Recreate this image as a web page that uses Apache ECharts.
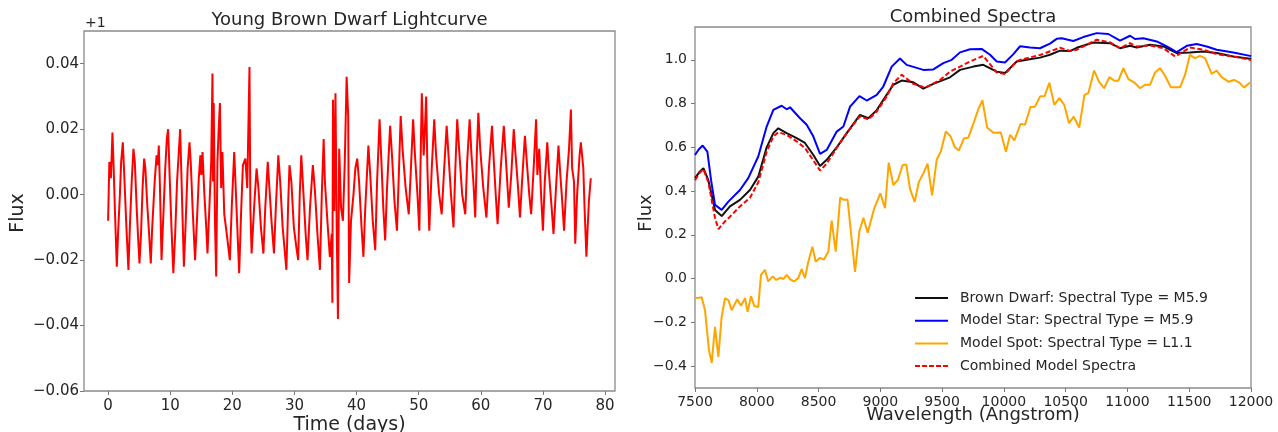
<!DOCTYPE html>
<html>
<head>
<meta charset="utf-8">
<script src="https://cdn.jsdelivr.net/npm/echarts@6/dist/echarts.min.js"></script>
<style>
html,body{margin:0;padding:0;background:#fff;}
#c{width:1278px;height:432px;}
</style>
</head>
<body>
<div id="c"></div>
<script>
// ---------- Light curve (left) ----------
var lcTime = [0.0,0.2,0.45,0.7,0.9,1.1,1.4,1.6,1.9,2.1,2.37,2.6,2.9,3.27,3.5,3.8,4.08,4.3,4.6,4.8,5.05,5.3,5.55,5.8,6.0,6.3,6.6,6.87,7.1,7.5,7.8,8.0,8.16,8.35,8.6,8.9,9.2,9.45,9.66,9.9,10.2,10.5,10.8,11.1,11.35,11.6,11.8,12.0,12.2,12.5,12.8,13.1,13.3,13.6,14.0,14.3,14.6,14.85,15.0,15.2,15.5,15.8,16.0,16.3,16.6,16.8,16.9,17.0,17.2,17.4,17.6,17.8,18.0,18.2,18.4,18.7,19.1,19.6,19.9,20.3,20.5,20.8,21.1,21.4,21.7,22.1,22.4,22.76,22.9,23.1,23.5,23.9,24.2,24.6,25.0,25.3,25.7,25.9,26.3,26.7,27.0,27.4,27.7,28.1,28.7,29.0,29.2,29.5,29.9,30.3,30.6,30.85,31.1,31.4,31.8,32.1,32.5,32.96,33.3,33.7,34.1,34.4,34.7,34.9,35.3,35.7,36.0,36.1,36.2,36.4,36.6,36.8,37.0,37.2,37.5,37.8,38.1,38.4,38.65,38.8,39.1,39.5,39.8,40.1,40.4,40.8,41.1,41.4,41.9,42.2,42.6,43.0,43.3,43.7,44.0,44.3,44.6,44.9,45.4,45.7,46.1,46.5,46.8,47.1,47.4,47.9,48.4,48.7,49.1,49.4,49.8,50.1,50.3,50.5,50.8,51.0,51.2,51.4,51.7,52.1,52.5,52.8,53.3,53.7,54.1,54.5,54.8,55.2,55.6,55.9,56.2,56.5,57.0,57.5,57.8,58.2,58.5,58.8,59.1,59.35,59.6,59.9,60.4,60.9,61.3,61.8,62.1,62.4,62.7,63.2,63.7,64.0,64.5,64.9,65.3,65.6,66.0,66.3,66.7,67.1,67.4,67.8,68.1,68.5,68.9,69.1,69.4,69.7,70.0,70.3,70.7,71.0,71.4,71.7,72.1,72.5,72.8,73.1,73.4,73.8,74.2,74.5,74.7,75.0,75.2,75.5,75.9,76.1,76.3,76.5,76.7,77.0,77.2,77.4,77.7];
var lcFlux = [-0.008,0.010,0.005,0.019,0.008,-0.005,-0.022,-0.012,0.000,0.010,0.016,0.006,-0.008,-0.023,-0.010,0.004,0.014,0.010,-0.004,-0.012,-0.021,-0.012,0.002,0.011,0.008,-0.003,-0.012,-0.021,-0.010,0.004,0.012,0.009,0.015,0.002,-0.020,-0.006,0.008,0.017,0.020,0.006,-0.010,-0.024,-0.012,0.004,0.012,0.020,0.006,-0.008,-0.022,-0.008,0.008,0.016,0.010,-0.004,-0.020,-0.008,0.005,0.012,0.006,0.013,0.000,-0.010,-0.018,-0.004,0.010,0.037,0.004,0.028,-0.008,-0.025,0.010,0.020,0.028,0.002,0.013,-0.006,-0.012,-0.020,-0.004,0.013,0.004,-0.010,-0.024,-0.006,0.009,0.011,0.002,0.039,-0.004,-0.018,-0.004,0.008,0.002,-0.010,-0.018,-0.004,0.010,0.004,-0.008,-0.018,-0.004,0.012,0.004,-0.010,-0.023,-0.002,0.009,0.004,-0.010,-0.016,-0.020,0.000,0.012,0.002,-0.012,-0.020,-0.004,0.009,0.001,-0.012,-0.023,0.000,0.017,0.004,-0.008,-0.019,-0.012,-0.033,0.029,-0.005,0.031,-0.010,-0.038,0.014,-0.004,-0.008,0.010,0.036,0.024,-0.027,-0.008,0.000,0.008,0.011,0.004,-0.010,-0.019,-0.004,0.015,0.006,-0.008,-0.017,0.004,0.023,0.010,-0.004,-0.014,0.002,0.021,0.012,-0.002,-0.011,0.006,0.024,0.014,0.002,-0.006,0.006,0.023,0.012,0.000,-0.011,0.010,0.031,0.012,0.020,0.030,0.008,-0.011,0.008,0.023,0.012,0.000,-0.006,0.008,0.021,0.012,0.000,-0.010,0.008,0.023,0.014,0.000,-0.006,0.010,0.023,0.012,0.004,-0.007,0.012,0.025,0.014,0.002,-0.007,0.008,0.021,0.010,0.000,-0.009,0.008,0.021,0.012,-0.004,0.006,0.020,0.012,0.002,-0.007,0.006,0.018,0.010,0.000,-0.006,0.008,0.023,0.006,0.014,0.000,-0.011,0.004,0.016,0.006,-0.004,-0.012,0.002,0.015,0.006,-0.002,-0.011,0.004,0.014,0.026,0.008,0.004,-0.015,0.000,0.012,0.016,0.016,0.008,-0.004,-0.019,-0.010,-0.002,0.005];
var lcXTicks = [0,10,20,30,40,50,60,70,80];
var lcYTicks = [-0.06,-0.04,-0.02,0.00,0.02,0.04];

// ---------- Spectra (right) ----------
var bdWave = [7500,7540,7568,7608,7662,7716,7783,7864,7945,8012,8080,8134,8174,8242,8323,8390,8458,8512,8566,8647,8728,8835,8903,8971,9051,9105,9173,9267,9348,9429,9564,9645,9753,9833,9942,10009,10104,10185,10292,10373,10454,10535,10589,10724,10859,10940,11021,11075,11183,11291,11399,11506,11614,11722,11857,11992,12000];
var bdFlux = [0.459,0.49,0.505,0.45,0.314,0.286,0.33,0.36,0.405,0.466,0.60,0.665,0.687,0.665,0.642,0.62,0.565,0.515,0.543,0.60,0.665,0.748,0.733,0.77,0.84,0.886,0.905,0.897,0.868,0.89,0.92,0.954,0.969,0.977,0.946,0.940,0.992,1.0,1.01,1.023,1.042,1.04,1.055,1.079,1.076,1.053,1.064,1.056,1.069,1.061,1.031,1.033,1.038,1.031,1.015,1.005,1.003];
var starWave = [7500,7530,7562,7600,7630,7662,7716,7770,7864,7931,8012,8080,8134,8201,8242,8269,8350,8404,8458,8512,8566,8647,8701,8755,8831,8890,8971,9024,9092,9159,9213,9348,9429,9510,9578,9645,9726,9820,9888,9942,10009,10077,10131,10212,10292,10373,10427,10468,10562,10643,10751,10845,10940,11021,11061,11129,11237,11318,11399,11480,11561,11642,11722,11857,11992,12000];
var starFlux = [0.565,0.59,0.608,0.58,0.45,0.337,0.314,0.352,0.405,0.459,0.558,0.695,0.771,0.79,0.774,0.783,0.733,0.703,0.649,0.57,0.588,0.672,0.695,0.786,0.834,0.814,0.84,0.878,0.969,1.006,0.977,0.954,0.956,0.985,1.0,1.034,1.048,1.05,1.023,0.992,0.988,1.026,1.062,1.056,1.053,1.074,1.096,1.099,1.086,1.104,1.122,1.118,1.088,1.11,1.095,1.099,1.084,1.061,1.035,1.064,1.072,1.061,1.046,1.033,1.018,1.016];
var spotWave = [7500,7527,7554,7581,7613,7635,7662,7689,7716,7743,7770,7797,7842,7872,7905,7926,7953,7980,8012,8034,8066,8093,8129,8158,8193,8215,8242,8269,8301,8336,8363,8390,8417,8450,8477,8512,8544,8579,8606,8639,8675,8705,8735,8795,8830,8863,8898,8950,9000,9038,9068,9105,9142,9180,9210,9240,9278,9311,9348,9382,9419,9456,9491,9530,9567,9604,9635,9676,9712,9760,9793,9826,9865,9915,9975,10017,10050,10085,10135,10171,10215,10252,10292,10330,10368,10408,10449,10489,10527,10565,10610,10652,10684,10730,10770,10811,10854,10894,10926,10967,11008,11056,11102,11142,11183,11223,11264,11304,11350,11426,11466,11506,11547,11587,11628,11682,11722,11763,11817,11863,11906,11944,11992];
var spotFlux = [-0.09,-0.088,-0.085,-0.145,-0.327,-0.385,-0.22,-0.358,-0.173,-0.09,-0.098,-0.144,-0.094,-0.124,-0.09,-0.152,-0.08,-0.125,-0.13,0.017,0.04,-0.013,0.010,-0.006,0.005,-0.002,0.017,-0.002,-0.013,0.002,0.043,0.002,0.077,0.146,0.077,0.095,0.087,0.123,0.265,0.123,0.37,0.36,0.36,0.031,0.215,0.278,0.21,0.32,0.39,0.322,0.53,0.428,0.451,0.518,0.522,0.41,0.35,0.441,0.481,0.525,0.38,0.543,0.584,0.672,0.652,0.6,0.585,0.64,0.644,0.72,0.774,0.815,0.69,0.667,0.668,0.58,0.657,0.632,0.707,0.703,0.784,0.786,0.832,0.835,0.895,0.794,0.825,0.794,0.71,0.74,0.69,0.84,0.848,0.951,0.90,0.87,0.921,0.904,0.904,0.962,0.912,0.896,0.87,0.886,0.886,0.942,0.962,0.927,0.875,0.875,0.931,1.023,1.008,1.018,1.008,0.936,0.951,0.921,0.90,0.908,0.896,0.873,0.896];
var combWave = [7500,7540,7568,7608,7662,7690,7740,7783,7864,7945,8012,8080,8134,8174,8242,8323,8390,8458,8512,8566,8647,8728,8835,8903,8971,9051,9105,9173,9267,9348,9375,9483,9564,9726,9833,9942,10009,10104,10131,10292,10454,10535,10589,10751,10859,10940,11021,11075,11183,11291,11386,11506,11614,11722,11857,11992,12000];
var combFlux = [0.45,0.485,0.50,0.44,0.277,0.226,0.26,0.283,0.33,0.37,0.44,0.58,0.65,0.669,0.657,0.627,0.597,0.54,0.494,0.526,0.597,0.665,0.742,0.727,0.764,0.832,0.893,0.932,0.89,0.876,0.876,0.908,0.946,0.992,1.018,0.942,0.935,0.994,1.0,1.022,1.055,1.041,1.046,1.092,1.08,1.053,1.076,1.061,1.066,1.053,1.015,1.056,1.046,1.026,1.015,1.0,0.998];
var specXTicks = [7500,8000,8500,9000,9500,10000,10500,11000,11500,12000];
var specYTicks = [-0.4,-0.2,0.0,0.2,0.4,0.6,0.8,1.0];

var seriesNames = ['Brown Dwarf: Spectral Type = M5.9','Model Star: Spectral Type = M5.9','Model Spot: Spectral Type = L1.1','Combined Model Spectra'];
var seriesColors = ['#111111','#0000ff','#ffa500','#ff0000'];

function zip(a, b) { var r = []; for (var i = 0; i < a.length; i++) r.push([a[i], b[i]]); return r; }
function fmt(d) { return function (v) { return v.toFixed(d).replace('-', '\u2212'); }; }

var FONT = 'DejaVu Sans';
var TXT = '#262626';
var SOLID_ICON = 'path://M0,0H33V2H0Z';
var DASH_ICON = 'path://M0,0H5V2H0Z M7,0H12V2H7Z M14,0H19V2H14Z M21,0H26V2H21Z M28,0H33V2H28Z';

function xAx(gi, min, max, ticks, fs, margin) {
  return {
    type: 'value', gridIndex: gi, min: min, max: max, position: 'bottom',
    axisLine: { show: false, onZero: false },
    axisTick: { show: true, length: 4, customValues: ticks, lineStyle: { color: '#777', width: 1 } },
    axisLabel: { customValues: ticks, color: TXT, fontSize: fs, fontFamily: FONT, margin: margin, formatter: function (v) { return String(Math.round(v)); } },
    splitLine: { show: false }
  };
}
function yAx(gi, min, max, ticks, fs, margin, dec) {
  return {
    type: 'value', gridIndex: gi, min: min, max: max, position: 'left',
    axisLine: { show: false, onZero: false },
    axisTick: { show: true, length: 4, customValues: ticks, lineStyle: { color: '#777', width: 1 } },
    axisLabel: { customValues: ticks, color: TXT, fontSize: fs, fontFamily: FONT, margin: margin, formatter: fmt(dec) },
    splitLine: { show: false }
  };
}

var legendData = seriesNames.map(function (n, i) {
  return { name: n, icon: i === 3 ? DASH_ICON : SOLID_ICON, itemStyle: { color: seriesColors[i] } };
});

var chart = echarts.init(document.getElementById('c'), null, { renderer: 'canvas' });
chart.setOption({
  animation: false,
  backgroundColor: '#ffffff',
  grid: [
    { left: 84, top: 31, width: 531, height: 360, show: true, borderColor: '#8a8a8a', borderWidth: 1.3, backgroundColor: 'transparent' },
    { left: 695, top: 27, width: 556, height: 361, show: true, borderColor: '#8a8a8a', borderWidth: 1.3, backgroundColor: 'transparent' }
  ],
  xAxis: [
    xAx(0, -3.88, 81.6, lcXTicks, 15, 8),
    xAx(1, 7500, 12000, specXTicks, 14, 7)
  ],
  yAxis: [
    yAx(0, -0.06, 0.05, lcYTicks, 15, 5, 2),
    yAx(1, -0.5, 1.15, specYTicks, 14, 8, 1)
  ],
  legend: {
    data: legendData,
    orient: 'vertical',
    left: 915, top: 291,
    padding: 0,
    itemWidth: 33, itemHeight: 2, itemGap: 8.7,
    symbolKeepAspect: false,
    textStyle: { fontSize: 14, fontFamily: FONT, color: TXT, lineHeight: 14, padding: [0, 0, 0, 7] }
  },
  graphic: [
    { type: 'text', x: 349.5, y: 20, style: { text: 'Young Brown Dwarf Lightcurve', font: '18px "DejaVu Sans"', fill: TXT, align: 'center', verticalAlign: 'middle' } },
    { type: 'text', x: 973, y: 17.5, style: { text: 'Combined Spectra', font: '18px "DejaVu Sans"', fill: TXT, align: 'center', verticalAlign: 'middle' } },
    { type: 'text', x: 85, y: 23, style: { text: '+1', font: '14px "DejaVu Sans"', fill: TXT, align: 'left', verticalAlign: 'middle' } },
    { type: 'text', x: 18, y: 213, rotation: Math.PI / 2, style: { text: 'Flux', font: '19px "DejaVu Sans"', fill: TXT, align: 'center', verticalAlign: 'middle' } },
    { type: 'text', x: 646, y: 213, rotation: Math.PI / 2, style: { text: 'Flux', font: '18px "DejaVu Sans"', fill: TXT, align: 'center', verticalAlign: 'middle' } },
    { type: 'text', x: 349.5, y: 425, style: { text: 'Time (days)', font: '19px "DejaVu Sans"', fill: TXT, align: 'center', verticalAlign: 'middle' } },
    { type: 'text', x: 973, y: 415, style: { text: 'Wavelength (Angstrom)', font: '18px "DejaVu Sans"', fill: TXT, align: 'center', verticalAlign: 'middle' } }
  ],
  series: [
    { name: 'lightcurve', type: 'line', xAxisIndex: 0, yAxisIndex: 0, data: zip(lcTime, lcFlux), showSymbol: false, symbol: 'none', lineStyle: { color: '#ff0000', width: 2 }, itemStyle: { color: '#ff0000' } },
    { name: seriesNames[0], type: 'line', xAxisIndex: 1, yAxisIndex: 1, data: zip(bdWave, bdFlux), showSymbol: false, symbol: 'none', lineStyle: { color: seriesColors[0], width: 2 }, itemStyle: { color: seriesColors[0] } },
    { name: seriesNames[1], type: 'line', xAxisIndex: 1, yAxisIndex: 1, data: zip(starWave, starFlux), showSymbol: false, symbol: 'none', lineStyle: { color: seriesColors[1], width: 2 }, itemStyle: { color: seriesColors[1] } },
    { name: seriesNames[2], type: 'line', xAxisIndex: 1, yAxisIndex: 1, data: zip(spotWave, spotFlux), showSymbol: false, symbol: 'none', lineStyle: { color: seriesColors[2], width: 2 }, itemStyle: { color: seriesColors[2] } },
    { name: seriesNames[3], type: 'line', xAxisIndex: 1, yAxisIndex: 1, data: zip(combWave, combFlux), showSymbol: false, symbol: 'none', lineStyle: { color: seriesColors[3], width: 2, type: [5, 2.5] }, itemStyle: { color: seriesColors[3] } }
  ]
});
</script>
</body>
</html>
